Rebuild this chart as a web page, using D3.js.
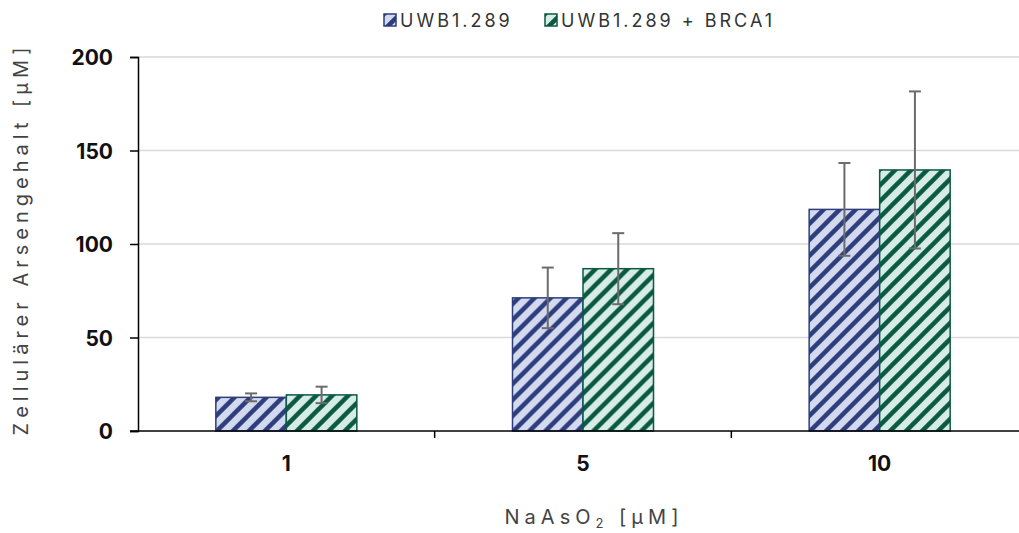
<!DOCTYPE html>
<html>
<head>
<meta charset="utf-8">
<script src="https://cdn.jsdelivr.net/npm/d3@7"></script>
<style>
  body { margin: 0; background: #fff; }
  svg { display: block; }
</style>
</head>
<body>
<div id="chart"></div>
<script>
// data
var doses = ["1", "5", "10"];
var seriesNames = ["UWB1.289", "UWB1.289 + BRCA1"];
var uwbMean = [18.0, 71.2, 118.5];
var uwbErr = [2.1, 16.2, 24.8];
var brcaMean = [19.3, 86.8, 139.6];
var brcaErr = [4.4, 19.0, 42.0];
var yTicks = [0, 50, 100, 150, 200];

var W = 1019, H = 533;
var margin = {top: 57, left: 138, bottom: 102};
var height = H - margin.top - margin.bottom;

var svg = d3.select("#chart").append("svg")
    .attr("width", W).attr("height", H);

// hatch patterns
var colors = [
  {id: "hatchBlue", fill: "#d3daef", stripe: "#2e3d7c", stroke: "#2e3d7c"},
  {id: "hatchGreen", fill: "#d5ede6", stripe: "#0b5843", stroke: "#0b5843"}
];
var defs = svg.append("defs");
colors.forEach(function(c) {
  var p = defs.append("pattern")
      .attr("id", c.id)
      .attr("patternUnits", "userSpaceOnUse")
      .attr("width", 16).attr("height", 16);
  p.append("rect").attr("width", 16).attr("height", 16).attr("fill", c.fill);
  p.append("path")
      .attr("d", "M-4,4 L4,-4 M0,16 L16,0 M12,20 L20,12")
      .attr("stroke", c.stripe)
      .attr("stroke-width", 4.5);
});

var x = d3.scaleBand().domain(doses).range([margin.left, margin.left + 890]);
var inner = d3.scaleBand().domain([0, 1]).range([0, 141]);
var y = d3.scaleLinear().domain([0, 200]).range([margin.top + height, margin.top]);

// gridlines
svg.append("g").selectAll("line")
  .data(yTicks.slice(1))
  .enter().append("line")
    .attr("x1", margin.left).attr("x2", W)
    .attr("y1", function(d){ return y(d); })
    .attr("y2", function(d){ return y(d); })
    .attr("stroke", "#d9d9d9")
    .attr("stroke-width", 1.5);

// bars
var rows = doses.map(function(d, i) {
  return [
    {dose: d, s: 0, v: uwbMean[i], e: uwbErr[i]},
    {dose: d, s: 1, v: brcaMean[i], e: brcaErr[i]}
  ];
});
var groups = svg.append("g").selectAll("g")
  .data(rows)
  .enter().append("g")
    .attr("transform", function(d){ return "translate(" + (x(d[0].dose) + x.bandwidth()/2 - 70.5) + ",0)"; });

groups.selectAll("rect")
  .data(function(d){ return d; })
  .enter().append("rect")
    .attr("x", function(d){ return inner(d.s); })
    .attr("y", function(d){ return y(d.v); })
    .attr("width", inner.bandwidth())
    .attr("height", function(d){ return y(0) - y(d.v); })
    .attr("fill", function(d){ return "url(#" + colors[d.s].id + ")"; })
    .attr("stroke", function(d){ return colors[d.s].stroke; })
    .attr("stroke-width", 1.5);

// error bars
var eb = groups.selectAll(".err")
  .data(function(d){ return d; })
  .enter().append("g").attr("class", "err")
    .attr("stroke", "#6b6b6b").attr("stroke-width", 2);
eb.append("line")
  .attr("x1", function(d){ return inner(d.s) + inner.bandwidth()/2; })
  .attr("x2", function(d){ return inner(d.s) + inner.bandwidth()/2; })
  .attr("y1", function(d){ return y(d.v + d.e); })
  .attr("y2", function(d){ return y(d.v - d.e); });
[1, -1].forEach(function(sign) {
  eb.append("line")
    .attr("x1", function(d){ return inner(d.s) + inner.bandwidth()/2 - 6; })
    .attr("x2", function(d){ return inner(d.s) + inner.bandwidth()/2 + 6; })
    .attr("y1", function(d){ return y(d.v + sign*d.e); })
    .attr("y2", function(d){ return y(d.v + sign*d.e); });
});

// y axis
var yAxis = svg.append("g")
  .attr("transform", "translate(" + margin.left + ",0)")
  .call(d3.axisLeft(y).tickValues(yTicks).tickSize(8).tickPadding(17));
yAxis.select(".domain").attr("stroke", "#000").attr("stroke-width", 1.5);
yAxis.selectAll(".tick line").attr("stroke", "#000").attr("stroke-width", 1.5);
yAxis.selectAll("text")
  .attr("fill", "#111")
  .style("font-family", "Inter, sans-serif")
  .style("font-weight", "bold")
  .style("font-size", "21px")
  .attr("dy", "0.36em");

// x axis
var xAxis = svg.append("g")
  .attr("transform", "translate(0," + y(0) + ")")
  .call(d3.axisBottom(x).tickSize(0).tickPadding(25));
xAxis.select(".domain").remove();
xAxis.selectAll("text")
  .attr("fill", "#111")
  .style("font-family", "Inter, sans-serif")
  .style("font-weight", "bold")
  .style("font-size", "21px");
svg.append("line")
  .attr("x1", margin.left - 8).attr("x2", W)
  .attr("y1", y(0)).attr("y2", y(0))
  .attr("stroke", "#000").attr("stroke-width", 1.5);
svg.append("g").selectAll("line")
  .data(doses.slice(1))
  .enter().append("line")
    .attr("x1", function(d){ return x(d); })
    .attr("x2", function(d){ return x(d); })
    .attr("y1", y(0)).attr("y2", y(0) + 7)
    .attr("stroke", "#000").attr("stroke-width", 1.5);

// axis titles
svg.append("text")
  .attr("transform", "translate(28," + ((y(0) + y(200)) / 2 - 5) + ") rotate(-90)")
  .attr("text-anchor", "middle")
  .attr("fill", "#444")
  .style("font-family", "Inter, sans-serif")
  .style("font-size", "20px")
  .style("letter-spacing", "5px")
  .text("Zellulärer Arsengehalt [µM]");

var xt = svg.append("text")
  .attr("x", 594).attr("y", 524)
  .attr("text-anchor", "middle")
  .attr("fill", "#444")
  .style("font-family", "Inter, sans-serif")
  .style("font-size", "20px")
  .style("letter-spacing", "5px");
xt.append("tspan").text("NaAsO");
xt.append("tspan").attr("dy", 4).style("font-size", "13px").text("2");
xt.append("tspan").attr("dy", -4).text(" [µM]");

// legend
var legX = [384, 545];
var leg = svg.append("g").selectAll("g")
  .data(seriesNames)
  .enter().append("g")
    .attr("transform", function(d, i){ return "translate(" + legX[i] + ",14)"; });
leg.append("rect")
  .attr("width", 12).attr("height", 12)
  .attr("fill", function(d, i){ return "url(#" + colors[i].id + ")"; })
  .attr("stroke", function(d, i){ return colors[i].stroke; })
  .attr("stroke-width", 1.5);
leg.append("text")
  .attr("x", 16).attr("y", 12.5)
  .attr("fill", "#333")
  .style("font-family", "Inter, sans-serif")
  .style("font-size", "18px")
  .style("letter-spacing", "3px")
  .text(function(d){ return d; });
</script>
</body>
</html>
